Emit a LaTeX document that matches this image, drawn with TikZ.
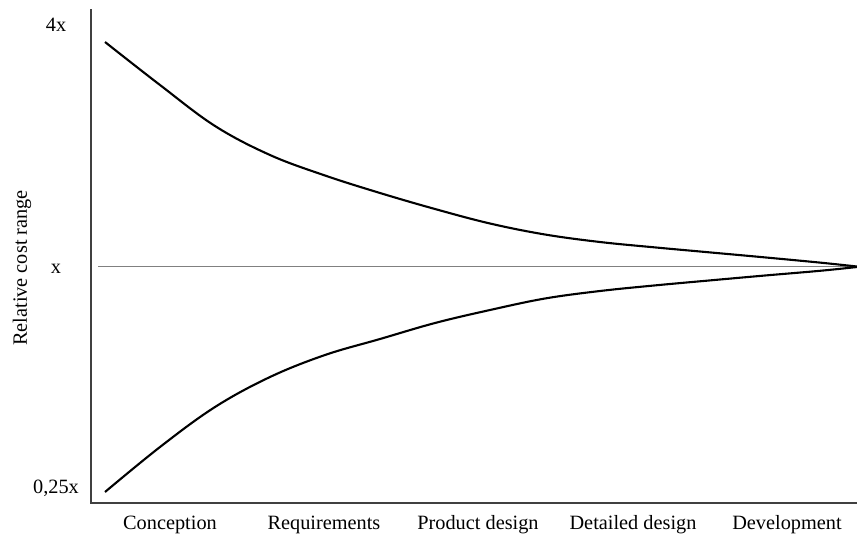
\documentclass[tikz,border=0pt]{standalone}
\usepackage{fontspec}
\setmainfont{Liberation Serif}
\begin{document}
\begin{tikzpicture}[x=1pt,y=-1pt,
  lbl/.style={font=\fontsize{20.3}{24}\selectfont, inner sep=0pt},
  axisline/.style={draw=black!75, line width=1.3pt},
  refline/.style={draw=black!50, line width=1.5pt},
  costcurve/.style={draw=black, line width=2.1pt, smooth, tension=0.6}]
\useasboundingbox (0,0) rectangle (857,533);
% axes
\draw[axisline] (91,9) -- (91,503) -- (857,503);
% nominal cost level
\draw[refline] (98,266.5) -- (857,266.5);
% upper bound of the estimate range
\draw[costcurve] plot coordinates {(105,42) (160,85) (215,126) (270,155) (325,175.5) (380,193) (435,209) (490,223.5) (545,234.5) (600,242) (655,247.4) (710,252.4) (765,257.4) (820,262.6) (857,266.5)};
% lower bound of the estimate range
\draw[costcurve] plot coordinates {(105,492) (160,447) (215,407) (270,377) (325,355) (380,339) (435,323) (490,310) (545,298.5) (600,291) (655,285.4) (710,280.4) (765,275.5) (820,270.8) (857,267)};
% vertical scale labels
\node[lbl, anchor=base] (four) at (56,31) {4x};
\node[lbl, anchor=base] (one) at (56,273) {x};
\node[lbl, anchor=base] (quarter) at (56,493) {0,25x};
\node[lbl, rotate=90] (ylab) at (22,268) {Relative cost range};
% phase labels
\node[lbl, anchor=base] (p1) at (170,529) {Conception};
\node[lbl, anchor=base] (p2) at (324,529) {Requirements};
\node[lbl, anchor=base] (p3) at (478,529) {Product design};
\node[lbl, anchor=base] (p4) at (633,529) {Detailed design};
\node[lbl, anchor=base] (p5) at (787,529) {Development};
\end{tikzpicture}
\end{document}
